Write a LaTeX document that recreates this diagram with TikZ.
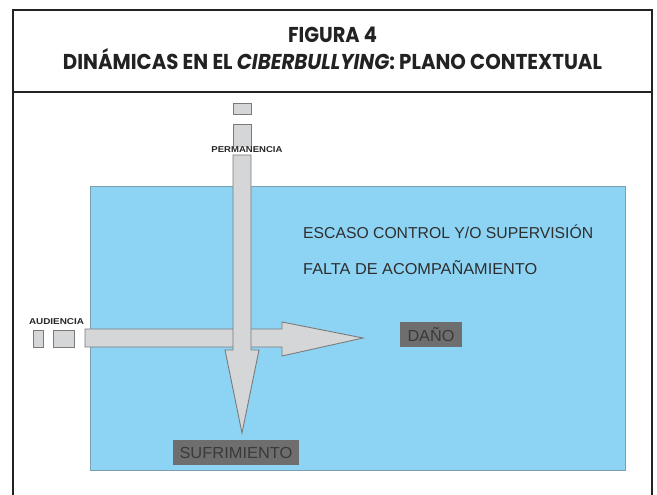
\documentclass[tikz,border=0pt]{standalone}
\usepackage{fontspec}
\usepackage{graphicx}
\setmainfont{Liberation Sans}
\newfontfamily\titlefont{Poppins}
\definecolor{framec}{HTML}{222222}
\definecolor{skyfill}{HTML}{8DD4F4}
\definecolor{skyline}{HTML}{7C9FB0}
\definecolor{arrowfill}{HTML}{D5D6D8}
\definecolor{arrowline}{HTML}{7A7A7A}
\definecolor{labelbox}{HTML}{6E6E6E}
\definecolor{labeltext}{HTML}{3A3A3A}
\definecolor{bodytext}{HTML}{2E2E2E}
\tikzset{
  frameline/.style={draw=framec, line width=2.6pt},
  zone/.style={draw=skyline, fill=skyfill, line width=0.8pt},
  blockarrow/.style={draw=arrowline, fill=arrowfill, line width=0.9pt, line join=miter},
  smallbox/.style={draw=arrowline, fill=arrowfill, line width=0.9pt},
  darkbox/.style={fill=labelbox, text=labeltext, inner sep=0pt, font=\fontsize{16}{18}\selectfont},
  bodylabel/.style={text=bodytext, anchor=base west, inner sep=0pt, font=\fontsize{15.8}{18}\selectfont},
  tinylabel/.style={text=black!85, anchor=base, inner sep=0pt, font=\bfseries\fontsize{8.5}{9}\selectfont},
  titletext/.style={anchor=base, inner sep=0pt, text=framec, font=\titlefont\bfseries\fontsize{21.5}{24}\selectfont}
}
\begin{document}
\begin{tikzpicture}[x=1pt,y=-1pt]
\useasboundingbox (0,0) rectangle (657,495);
% frame
\draw[frameline] (13,495) -- (13,10) -- (652,10) -- (652,495);
\draw[frameline] (13,92) -- (652,92);
% title
\node[titletext] (t1) at (332.5,43) {\resizebox{89pt}{\height}{FIGURA 4}};
\node[titletext] (t2) at (332.5,70) {\resizebox{539pt}{\height}{DINÁMICAS EN EL \textit{CIBERBULLYING}: PLANO CONTEXTUAL}};
% blue zone
\node[zone, minimum width=535pt, minimum height=284pt, inner sep=0pt] (zone) at (357.5,328) {};
% audiencia
\node[smallbox, minimum width=10pt, minimum height=17pt, inner sep=0pt] (a1) at (38,338.5) {};
\node[smallbox, minimum width=21pt, minimum height=17pt, inner sep=0pt] (a2) at (63.5,338.5) {};
\node[tinylabel] (aud) at (56.5,324) {\resizebox{55pt}{\height}{AUDIENCIA}};
% horizontal arrow
\coordinate (hs) at (85,338);
\coordinate (ht) at (363,338);
\draw[blockarrow] (hs) ++(0,-9) -- (282,329) -- (282,322) -- (ht) -- (282,356) -- (282,347) -- (85,347) -- cycle;
% permanencia
\node[smallbox, minimum width=18pt, minimum height=11pt, inner sep=0pt] (p1) at (242,108.5) {};
\node[smallbox, minimum width=18pt, minimum height=22pt, inner sep=0pt] (p2) at (242,135) {};
% vertical arrow
\coordinate (vs) at (242,155);
\coordinate (vt) at (242,433);
\draw[blockarrow] (vs) ++(-9,0) -- (251,155) -- (251,350) -- (259,350) -- (vt) -- (225,350) -- (233,350) -- cycle;
\node[tinylabel, fill=white, fill opacity=0.6, text opacity=1, inner sep=1pt] (perm) at (247,153) {\resizebox{71pt}{\height}{PERMANENCIA}};
% texts
\node[bodylabel] (esc) at (303,238) {\resizebox{290pt}{\height}{ESCASO CONTROL Y/O SUPERVISIÓN}};
\node[bodylabel] (fal) at (303,274) {\resizebox{234pt}{\height}{FALTA DE ACOMPAÑAMIENTO}};
% result boxes
\node[darkbox, minimum width=62pt, minimum height=25pt] (dano) at (431,334.5) {\resizebox{47pt}{\height}{DAÑO}};
\node[darkbox, minimum width=126pt, minimum height=25pt] (sufr) at (236,452.5) {\resizebox{113pt}{\height}{SUFRIMIENTO}};
\end{tikzpicture}
\end{document}
